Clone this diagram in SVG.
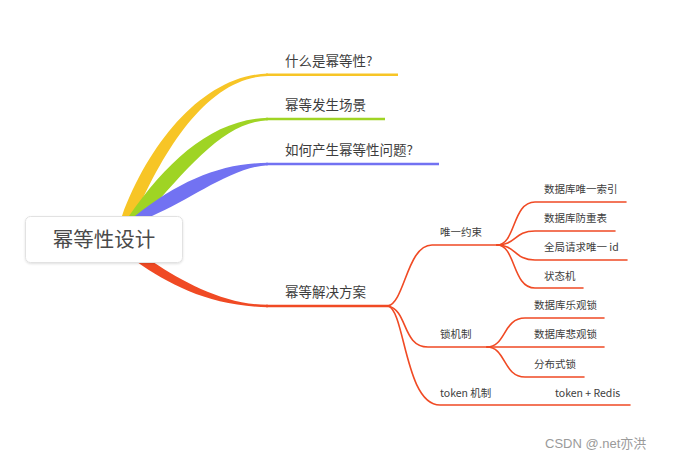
<svg xmlns="http://www.w3.org/2000/svg" width="680" height="462" viewBox="0 0 680 462">
<defs>
<filter id="sh" x="-10%" y="-20%" width="120%" height="150%">
<feDropShadow dx="0" dy="1" stdDeviation="1.2" flood-color="#000" flood-opacity="0.12"/>
</filter>
</defs>
<style>
text{font-family:"Noto Sans CJK SC","Noto Sans",sans-serif;fill:#3d3d3d}
.t1{font-size:13.5px}
.t2{font-size:10.5px}
.root{font-size:20.5px;fill:#4a4a4a}
.red{fill:none;stroke:#f04a24;stroke-width:1.6;stroke-linecap:round}
.wm{font-family:"Liberation Sans","Noto Sans CJK SC",sans-serif;font-size:13px;fill:#9a9a9a}
</style>
<rect width="680" height="462" fill="#fff"/>
<g id="connectors">
<path d="M122,216 C150,140 205,75 268,73.5 L268,76 C212,77 168,140 135,216 Z" fill="#f7c526"/>
<line x1="266" y1="74.8" x2="398" y2="74.8" stroke="#f7c526" stroke-width="2.4"/>
<path d="M129,216 C168,160 213,119 268,117.8 L268,120.2 C225,122 190,165 145,216 Z" fill="#9fd424"/>
<line x1="266" y1="119" x2="385" y2="119" stroke="#9fd424" stroke-width="2.4"/>
<path d="M135,216 C180,180 222,163 268,162.8 L268,165.2 C232,167 190,200 152,216 Z" fill="#7272f2"/>
<line x1="266" y1="164" x2="439" y2="164" stroke="#7272f2" stroke-width="2.4"/>
<path d="M137,262 C170,285 210,306 268,307.2 L268,304.8 C225,304.8 185,283 153,262 Z" fill="#f04a24"/>
<line x1="266" y1="306" x2="390" y2="306" stroke="#f04a24" stroke-width="2.4"/>
<path class="red" d="M388,306 C405,302 407,245 432,245 L497,245"/>
<path class="red" d="M388,306 C408,310 402,347 428,347 L487,347"/>
<path class="red" d="M388,306 C405,310 405,405 440,405 L630,405"/>
<path class="red" d="M497,245 C516,245 512,202 535,202 L626,202"/>
<path class="red" d="M497,245 C516,245 514,231 535,231 L615,231"/>
<path class="red" d="M497,245 C516,245 514,260 535,260 L627,260"/>
<path class="red" d="M497,245 C516,245 512,288 535,288 L583,288"/>
<path class="red" d="M487,347 C506,347 503,318 525,318 L604,318"/>
<path class="red" d="M487,347 L604,347"/>
<path class="red" d="M487,347 C506,347 503,377 525,377 L584,377"/>
</g>
<g id="root">
<rect x="25.5" y="216.5" width="157" height="46" rx="5" fill="#fff" stroke="#e2e2e2" filter="url(#sh)"/>
<text class="root" x="104" y="247" text-anchor="middle">幂等性设计</text>
</g>
<g id="n-what"><text class="t1" x="285" y="66">什么是幂等性?</text></g>
<g id="n-scene"><text class="t1" x="285" y="110">幂等发生场景</text></g>
<g id="n-how"><text class="t1" x="285" y="155">如何产生幂等性问题?</text></g>
<g id="n-solution"><text class="t1" x="285" y="297">幂等解决方案</text></g>
<g id="n-unique"><text class="t2" x="440" y="236">唯一约束</text></g>
<g id="n-uidx"><text class="t2" x="544" y="193">数据库唯一索引</text></g>
<g id="n-dedup"><text class="t2" x="544" y="222">数据库防重表</text></g>
<g id="n-gid"><text class="t2" x="544" y="251">全局请求唯一 id</text></g>
<g id="n-fsm"><text class="t2" x="544" y="280">状态机</text></g>
<g id="n-lock"><text class="t2" x="440" y="338">锁机制</text></g>
<g id="n-opt"><text class="t2" x="534" y="309">数据库乐观锁</text></g>
<g id="n-pess"><text class="t2" x="534" y="338">数据库悲观锁</text></g>
<g id="n-dist"><text class="t2" x="534" y="368">分布式锁</text></g>
<g id="n-token"><text class="t2" x="440" y="397">token 机制</text></g>
<g id="n-redis"><text class="t2" x="555" y="397">token + Redis</text></g>
<text class="wm" x="545" y="448">CSDN @.net亦洪</text>
</svg>
